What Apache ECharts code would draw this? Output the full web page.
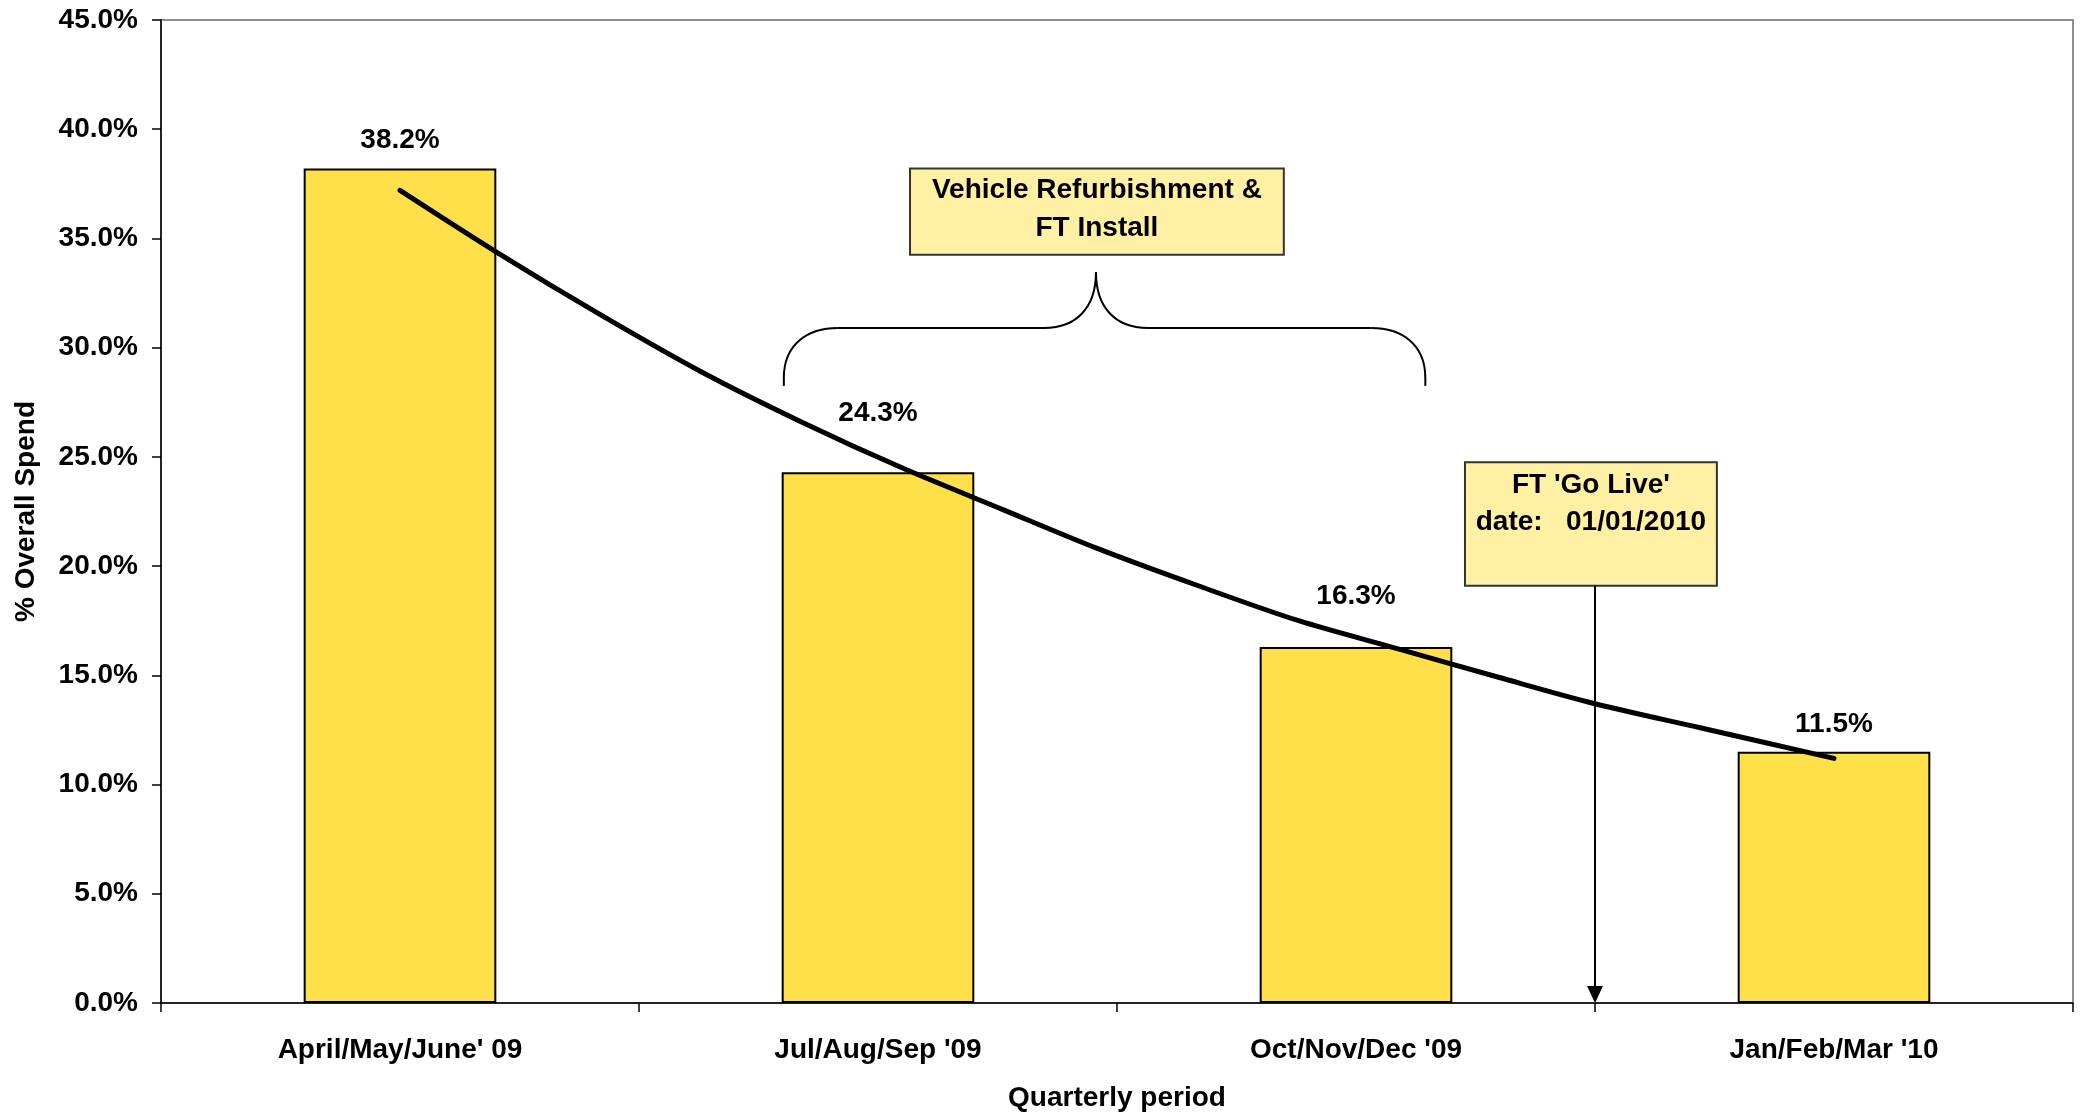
<!DOCTYPE html>
<html>
<head>
<meta charset="utf-8">
<title>% Overall Spend by Quarter</title>
<script src="https://cdn.jsdelivr.net/npm/echarts/dist/echarts.min.js"></script>
<style>
  html, body { margin: 0; padding: 0; background: #ffffff; }
  #chart { width: 2083px; height: 1117px; }
</style>
</head>
<body>
<div id="chart"></div>
<script>
// ---- data ----
const quarters = ["April/May/June' 09", "Jul/Aug/Sep '09", "Oct/Nov/Dec '09", "Jan/Feb/Mar '10"];
const spendShare = [38.2, 24.3, 16.3, 11.5];

// Trend curve samples, positioned along the quarter axis (0 = left edge, 4 = right edge)
const trendPos = [0.50, 0.70, 0.92, 1.13, 1.34, 1.55, 1.76, 1.96, 2.17, 2.38, 2.59, 2.80, 3.00, 3.22, 3.50];
const trendVal = [37.2, 34.4, 31.5, 28.9, 26.6, 24.5, 22.6, 20.8, 19.1, 17.5, 16.2, 14.9, 13.7, 12.6, 11.2];

// Value axis ticks
const yMin = 0;
const yMax = 45;
const yStep = 5;

// Annotation texts
const phaseNote = "Vehicle Refurbishment &\nFT Install";
const goLiveNote = "FT 'Go Live'\ndate:   01/01/2010";

// ---- styling ----
const FONT = "'Liberation Sans', Arial, Helvetica, sans-serif";
const textBase = { fontFamily: FONT, fontWeight: 'bold', fontSize: 28, color: '#000000' };
// extra lift for value labels that would otherwise sit on the trend curve
const labelLift = [0, 31, 23, 0];

const chart = echarts.init(document.getElementById('chart'), null, { renderer: 'canvas' });

const option = {
  animation: false,
  backgroundColor: '#ffffff',
  grid: {
    left: 161, right: 10, top: 20, bottom: 112,
    show: true, borderColor: '#8f8f8f', borderWidth: 2, backgroundColor: 'transparent'
  },
  xAxis: [
    {
      type: 'category',
      data: quarters,
      axisLine: { lineStyle: { color: '#000', width: 1.5 } },
      axisTick: { show: true, length: 9, lineStyle: { color: '#000', width: 1.5 } },
      axisLabel: Object.assign({}, textBase, { margin: 33, interval: 0 }),
      splitLine: { show: false },
      name: 'Quarterly period',
      nameLocation: 'middle',
      nameGap: 81,
      nameTextStyle: Object.assign({}, textBase)
    },
    {
      // continuous quarter scale used by the trend curve and the annotations
      type: 'value', min: 0, max: 4, show: false
    }
  ],
  yAxis: {
    type: 'value',
    min: yMin, max: yMax, interval: yStep,
    axisLine: { show: true, lineStyle: { color: '#000', width: 1.5 } },
    axisTick: { show: true, length: 9, lineStyle: { color: '#000', width: 1.5 } },
    axisLabel: Object.assign({}, textBase, { margin: 23, formatter: v => v.toFixed(1) + '%' }),
    splitLine: { show: false },
    name: '% Overall Spend',
    nameLocation: 'middle',
    nameRotate: 90,
    nameGap: 121,
    nameTextStyle: Object.assign({}, textBase)
  },
  series: [
    {
      type: 'bar',
      data: spendShare.map((v, i) => ({ value: v, label: { distance: 14 + labelLift[i] } })),
      barWidth: '40.3%',
      itemStyle: { color: '#FFE04A', borderColor: '#000', borderWidth: 2 },
      label: Object.assign({}, textBase, {
        show: true, position: 'top', distance: 14,
        formatter: p => p.value.toFixed(1) + '%'
      }),
      z: 2
    },
    {
      type: 'line',
      xAxisIndex: 1,
      data: trendPos.map((p, i) => [p, trendVal[i]]),
      smooth: 0.3,
      symbol: 'none',
      lineStyle: { color: '#000', width: 5, cap: 'round', join: 'round' },
      z: 5
    }
  ]
};

chart.setOption(option);

// ---- annotations (placed in axis units, converted to pixels) ----
const px = u => chart.convertToPixel({ xAxisIndex: 1 }, u);
const py = v => chart.convertToPixel({ yAxisIndex: 0 }, v);

const layout = {
  phaseBox: { x0: 1.567, x1: 2.349, y0: 38.2, y1: 34.25 },
  brace: { left: 1.303, right: 2.645, peak: 1.956, end: 28.25, bar: 30.9, tip: 33.45 },
  goLiveBox: { x0: 2.728, x1: 3.255, y0: 24.75, y1: 19.1 },
  goLiveAt: 3.0
};

// Curly brace built from curves and straight runs
function braceParts(b) {
  const L = px(b.left), R = px(b.right), P = px(b.peak);
  const E = py(b.end), H = py(b.bar), T = py(b.tip);
  const r = 54;
  const stroke = { fill: null, stroke: '#000', lineWidth: 2 };
  const curve = (x1, y1, c1x, c1y, c2x, c2y, x2, y2) => ({
    type: 'bezierCurve', z: 10, silent: true,
    shape: { x1: x1, y1: y1, cpx1: c1x, cpy1: c1y, cpx2: c2x, cpy2: c2y, x2: x2, y2: y2 },
    style: stroke
  });
  const seg = (x1, y1, x2, y2) => ({
    type: 'line', z: 10, silent: true,
    shape: { x1: x1, y1: y1, x2: x2, y2: y2 },
    style: stroke
  });
  return [
    seg(L, E, L, E - 8),
    curve(L, E - 8, L, H + 16, L + 24, H, L + r, H),
    seg(L + r, H, P - 52, H),
    curve(P - 52, H, P - 18, H, P, H - 22, P, T),
    curve(P, T, P, H - 22, P + 18, H, P + 52, H),
    seg(P + 52, H, R - r, H),
    curve(R - r, H, R - 24, H, R, H + 16, R, E - 8),
    seg(R, E - 8, R, E)
  ];
}

const pb = layout.phaseBox;
const gb = layout.goLiveBox;
const ax = px(layout.goLiveAt);
const axisY = py(0);
const boxFill = '#FFF0A3';
const boxStroke = '#333333';

chart.setOption({
  graphic: braceParts(layout.brace).concat([
    {
      type: 'rect', z: 10, silent: true,
      shape: { x: px(pb.x0), y: py(pb.y0), width: px(pb.x1) - px(pb.x0), height: py(pb.y1) - py(pb.y0) },
      style: { fill: boxFill, stroke: boxStroke, lineWidth: 2 }
    },
    {
      type: 'text', z: 11, silent: true,
      x: (px(pb.x0) + px(pb.x1)) / 2,
      y: (py(pb.y0) + py(pb.y1)) / 2 - 2,
      style: {
        text: phaseNote, fill: '#000', fontFamily: FONT, fontWeight: 'bold', fontSize: 28,
        lineHeight: 38, align: 'center', verticalAlign: 'middle'
      }
    },
    {
      type: 'rect', z: 10, silent: true,
      shape: { x: px(gb.x0), y: py(gb.y0), width: px(gb.x1) - px(gb.x0), height: py(gb.y1) - py(gb.y0) },
      style: { fill: boxFill, stroke: boxStroke, lineWidth: 2 }
    },
    {
      type: 'text', z: 11, silent: true,
      x: (px(gb.x0) + px(gb.x1)) / 2,
      y: py(gb.y0) + 4,
      style: {
        text: goLiveNote, fill: '#000', fontFamily: FONT, fontWeight: 'bold', fontSize: 28,
        lineHeight: 37, align: 'center', verticalAlign: 'top'
      }
    },
    {
      type: 'line', z: 10, silent: true,
      shape: { x1: ax, y1: py(gb.y1), x2: ax, y2: axisY - 14 },
      style: { stroke: '#000', lineWidth: 2 }
    },
    {
      type: 'polygon', z: 10, silent: true,
      shape: { points: [[ax - 8, axisY - 17], [ax + 8, axisY - 17], [ax, axisY]] },
      style: { fill: '#000' }
    }
  ])
});
</script>
</body>
</html>
